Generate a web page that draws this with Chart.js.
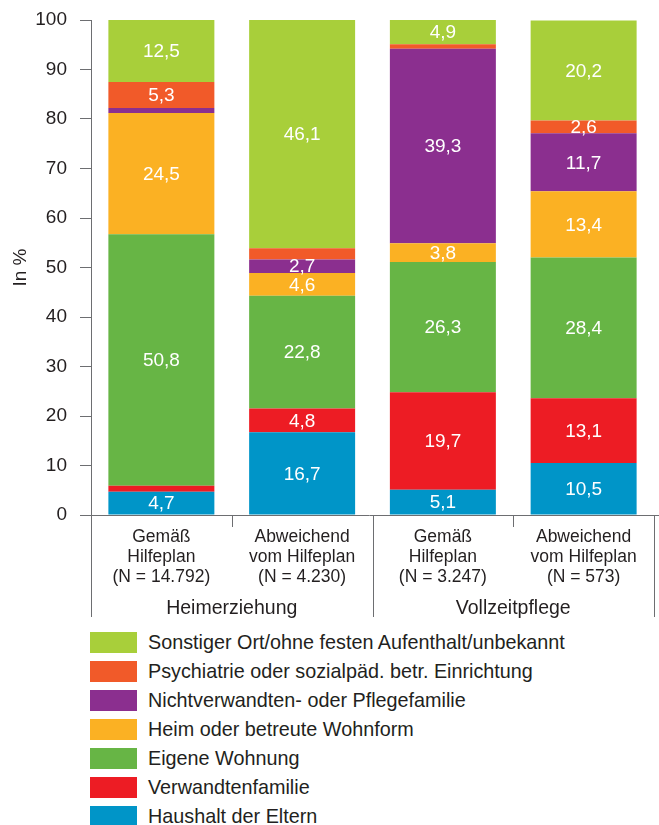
<!DOCTYPE html>
<html lang="de">
<head>
<meta charset="utf-8">
<script src="https://cdn.jsdelivr.net/npm/chart.js@4/dist/chart.umd.min.js"></script>
<style>
  body { margin: 0; background: #fff; font-family: "Liberation Sans", Arial, sans-serif; }
  #wrap { position: relative; width: 659px; height: 825px; }
  #chart { position: absolute; left: 0; top: 0; }
  #legend { position: absolute; left: 90px; top: 632px; }
  .item { position: relative; height: 29px; }
  .swatch { position: absolute; left: 0; top: 0; width: 47px; height: 21px; }
  .label { position: absolute; left: 58px; top: -1px; font-size: 19.8px; line-height: 23px; color: #231f20; white-space: nowrap; }
</style>
</head>
<body>
<div id="wrap">
  <canvas id="chart" width="659" height="625"></canvas>
  <div id="legend"></div>
</div>
<script>
// categories and groups
const categories = [
    ['Gemäß', 'Hilfeplan', '(N = 14.792)'],
    ['Abweichend', 'vom Hilfeplan', '(N = 4.230)'],
    ['Gemäß', 'Hilfeplan', '(N = 3.247)'],
    ['Abweichend', 'vom Hilfeplan', '(N = 573)']
];
const groups = ['Heimerziehung', 'Vollzeitpflege'];
const yTicks = [0, 10, 20, 30, 40, 50, 60, 70, 80, 90, 100];

// values in %, bottom to top
const haushalt        = [4.7, 16.7, 5.1, 10.5];
const verwandten      = [1.2, 4.8, 19.7, 13.1];
const eigene          = [50.8, 22.8, 26.3, 28.4];
const heim            = [24.5, 4.6, 3.8, 13.4];
const nichtverwandten = [1.0, 2.7, 39.3, 11.7];
const psychiatrie     = [5.3, 2.3, 0.9, 2.6];
const sonstiger       = [12.5, 46.1, 4.9, 20.2];

const textColor = '#231f20';
const axisColor = '#6d6e71';
const fontFamily = '"Liberation Sans", Arial, sans-serif';

const fmt = v => v.toFixed(1).replace('.', ',');

// axis line, dividers, group names, value labels
const groupPlugin = {
    id: 'groupPlugin',
    afterDraw(chart) {
        const { ctx, chartArea } = chart;
        const x = chart.scales.x;
        const bottom = chartArea.bottom;
        const step = x.getPixelForValue(1) - x.getPixelForValue(0);
        const edge = i => x.getPixelForValue(0) - step / 2 + i * step;

        ctx.save();
        ctx.strokeStyle = axisColor;
        ctx.lineWidth = 1;
        ctx.beginPath();
        ctx.moveTo(chartArea.left - 11, Math.round(bottom) + 0.5);
        ctx.lineTo(chart.width, Math.round(bottom) + 0.5);
        for (let i = 0; i <= categories.length; i++) {
            const len = i % 2 === 0 ? 102 : 12;
            const px = Math.round(edge(i)) + 0.5;
            ctx.moveTo(px, bottom);
            ctx.lineTo(px, bottom + len);
        }
        ctx.stroke();

        ctx.fillStyle = textColor;
        ctx.font = '19.5px ' + fontFamily;
        ctx.textAlign = 'center';
        ctx.textBaseline = 'middle';
        groups.forEach((g, k) => {
            const cx = (edge(2 * k) + edge(2 * k + 2)) / 2;
            ctx.fillText(g, cx, bottom + 94);
        });

        ctx.fillStyle = '#ffffff';
        ctx.font = '19px ' + fontFamily;
        chart.data.datasets.forEach((ds, di) => {
            const meta = chart.getDatasetMeta(di);
            meta.data.forEach((bar, i) => {
                const v = ds.data[i];
                if (v < 2.5) return;
                ctx.fillText(fmt(v), bar.x, (bar.y + bar.base) / 2 + 1);
            });
        });
        ctx.restore();
    }
};

const chart = new Chart(document.getElementById('chart'), {
    type: 'bar',
    data: {
        labels: categories,
        datasets: [
            { label: 'Haushalt der Eltern', data: haushalt, backgroundColor: '#0095c8' },
            { label: 'Verwandtenfamilie', data: verwandten, backgroundColor: '#ed1c24' },
            { label: 'Eigene Wohnung', data: eigene, backgroundColor: '#67b545' },
            { label: 'Heim oder betreute Wohnform', data: heim, backgroundColor: '#fbb123' },
            { label: 'Nichtverwandten- oder Pflegefamilie', data: nichtverwandten, backgroundColor: '#8b2f8f' },
            { label: 'Psychiatrie oder sozialpäd. betr. Einrichtung', data: psychiatrie, backgroundColor: '#f15a29' },
            { label: 'Sonstiger Ort/ohne festen Aufenthalt/unbekannt', data: sonstiger, backgroundColor: '#a8cf3a' }
        ]
    },
    options: {
        responsive: false,
        animation: false,
        categoryPercentage: 1,
        barPercentage: 0.753,
        layout: { padding: { top: 0, right: 5, bottom: 0, left: 0 } },
        plugins: {
            legend: { display: false },
            tooltip: { enabled: false }
        },
        scales: {
            x: {
                stacked: true,
                grid: { display: false, drawTicks: false },
                border: { display: false },
                ticks: {
                    color: textColor,
                    padding: 12,
                    maxRotation: 0,
                    autoSkip: false,
                    font: { family: fontFamily, size: 17.5, lineHeight: 20 / 17.5 }
                },
                afterFit(scale) { scale.height = 110; }
            },
            y: {
                stacked: true,
                min: 0,
                max: 100,
                afterBuildTicks(scale) { scale.ticks = yTicks.map(v => ({ value: v })); },
                grid: { drawOnChartArea: false, drawTicks: true, tickLength: 11, color: axisColor },
                border: { display: true, color: axisColor },
                ticks: {
                    color: textColor,
                    padding: 13,
                    font: { family: fontFamily, size: 19 }
                },
                title: {
                    display: true,
                    text: 'In %',
                    color: textColor,
                    padding: { top: 9, bottom: 0 },
                    font: { family: fontFamily, size: 19 }
                },
                afterFit(scale) {
                    scale.width = 91;
                    scale.paddingTop = 20;
                    scale.paddingBottom = 0;
                }
            }
        }
    },
    plugins: [groupPlugin]
});

// legend, top entry first
const legend = document.getElementById('legend');
chart.data.datasets.slice().reverse().forEach(ds => {
    const item = document.createElement('div');
    item.className = 'item';
    item.innerHTML = '<div class="swatch" style="background:' + ds.backgroundColor + '"></div>' +
        '<div class="label">' + ds.label + '</div>';
    legend.appendChild(item);
});
</script>
</body>
</html>
